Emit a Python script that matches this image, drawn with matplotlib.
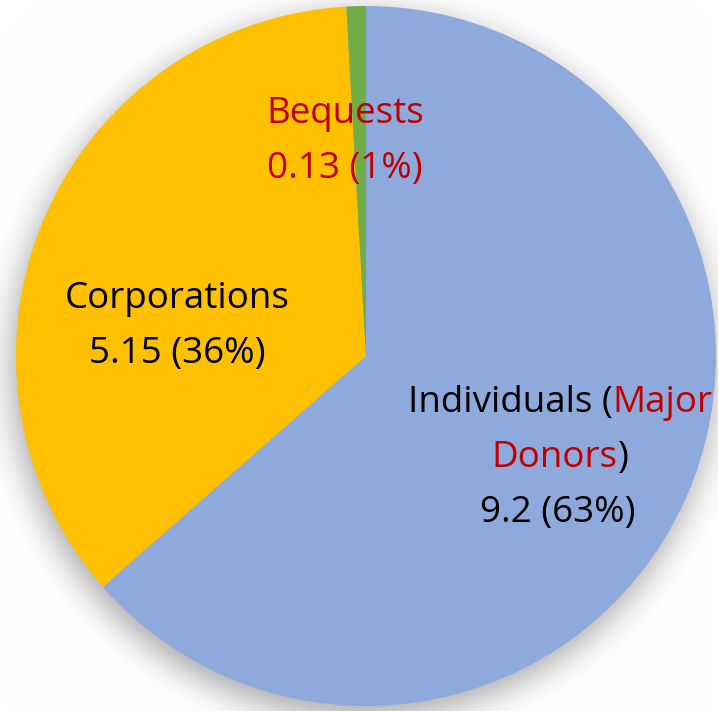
import math
import numpy as np
import matplotlib
matplotlib.use("Agg")
import matplotlib.pyplot as plt

# Data
categories = ["Individuals", "Corporations", "Bequests"]
values = [9.2, 5.15, 0.13]
pct_labels = ["63%", "36%", "1%"]
colors = ["#8EA9DB", "#FFC000", "#70AD47"]

W, H = 718, 711
fig = plt.figure(figsize=(W / 100, H / 100), dpi=100)
ax = fig.add_axes([0, 0, 1, 1])

cx, cy, R = 366, 355, 350

# soft shadow (offset slightly down/left, blurred)
yy, xx = np.mgrid[0:H, 0:W]
r = np.hypot(xx + 0.5 - (cx - 3), (H - yy - 0.5) - (cy - 10))
erfc = np.vectorize(math.erfc)
dark = 0.36 * 0.5 * erfc((r - R) / (math.sqrt(2) * 17))
img = np.ones((H, W, 3)) * (1 - dark)[..., None]
ax.imshow(img, extent=[0, W, 0, H], origin="upper", zorder=0)

ax.pie(values, colors=colors, startangle=90, counterclock=False,
       center=(cx, cy), radius=R, frame=True,
       wedgeprops=dict(linewidth=0, zorder=2))
ax.set_xlim(0, W)
ax.set_ylim(0, H)
ax.set_aspect("equal")
ax.axis("off")

FONT = ["Open Sans", "DejaVu Sans"]
FS = 26.5
RED = "#C00000"

def T(x, y, s, color="black", ha="center"):
    return ax.text(x, H - y, s, fontsize=FS, color=color, ha=ha, va="center",
                   family=FONT, zorder=5)

def multi(x, y, parts):
    fig.canvas.draw()
    rend = fig.canvas.get_renderer()
    texts = [T(0, y, s, c, ha="left") for s, c in parts]
    widths = [t.get_window_extent(renderer=rend).width for t in texts]
    start = x - sum(widths) / 2
    for t, w in zip(texts, widths):
        t.set_x(start)
        start += w

# Bequests
T(345, 114, "Bequests", RED)
T(345, 169, f"{values[2]} ({pct_labels[2]})", RED)
# Corporations
T(177, 299, "Corporations")
T(177, 354, f"{values[1]} ({pct_labels[1]})")
# Individuals
multi(560, 403, [("Individuals (", "black"), ("Major", RED)])
multi(560, 458, [("Donors", RED), (")", "black")])
T(558, 513, f"{values[0]} ({pct_labels[0]})")

fig.savefig("out.png", dpi=100)
